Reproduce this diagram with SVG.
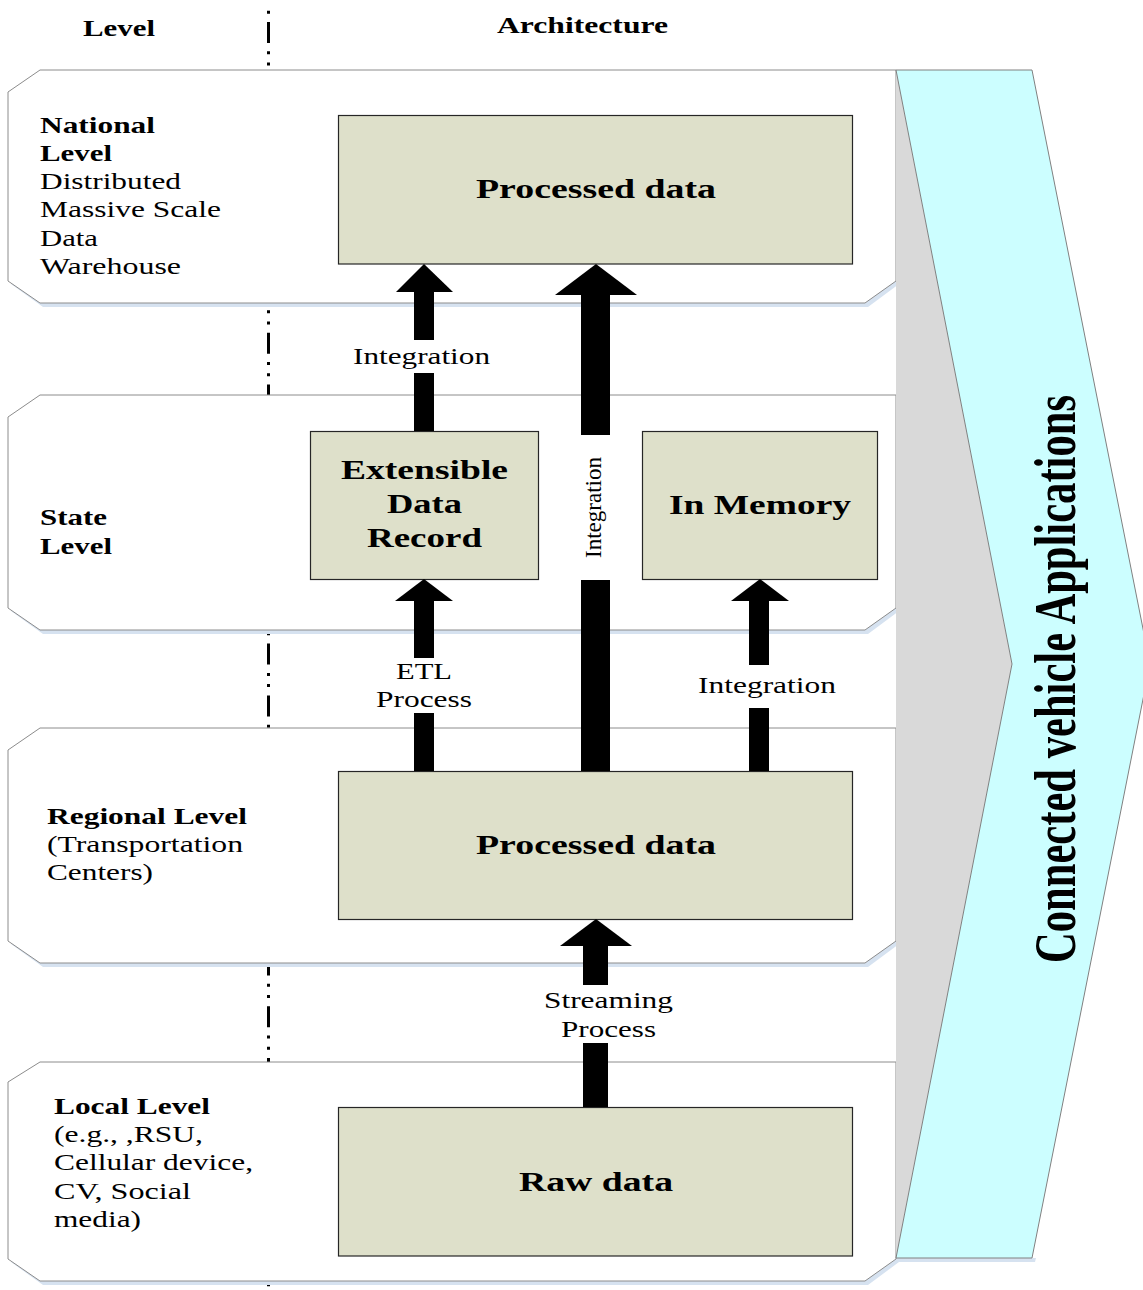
<svg xmlns="http://www.w3.org/2000/svg" width="1143" height="1290" viewBox="0 0 1143 1290">
  <style>
    text { font-family: "Liberation Serif", "Times New Roman", serif; fill: #000; }
    .b { font-weight: bold; }
    .lvl { font-size: 23px; }
    .box-t { font-size: 27px; font-weight: bold; }
    .lab { font-size: 23px; }
    .panel { fill: #ffffff; stroke: #8c8c8c; stroke-width: 1; }
    .shadow { fill: #d6e2f0; }
    .box { fill: #dee0ca; stroke: #262626; stroke-width: 1.2; }
    .arrow { fill: #000; }
  </style>

  <!-- level divider (dash-dot-dot) behind the panels -->
  <line id="divider" x1="268.5" y1="10.7" x2="268.5" y2="1290" stroke="#000" stroke-width="3" stroke-dasharray="3 8.3 21 8.3 3 8.2"/>

  <!-- header -->
  <text class="b" x="83" y="36" font-size="23" textLength="72" lengthAdjust="spacingAndGlyphs">Level</text>
  <text class="b" x="497" y="33" font-size="23" textLength="171" lengthAdjust="spacingAndGlyphs">Architecture</text>

  <!-- level panels -->
  <g id="panel-national">
    <path class="shadow" d="M43 74 L899 74 L899 284 L868 307 L43 307 L11 284 Z"/>
    <path class="panel" d="M40 70 L896 70 L896 281 L865 303 L40 303 L8 281 L8 92 Z"/>
    <text class="lvl b" x="40" y="133" textLength="115" lengthAdjust="spacingAndGlyphs">National</text>
    <text class="lvl b" x="40" y="161" textLength="72" lengthAdjust="spacingAndGlyphs">Level</text>
    <text class="lvl" x="40" y="189" textLength="141" lengthAdjust="spacingAndGlyphs">Distributed</text>
    <text class="lvl" x="40" y="217" textLength="181" lengthAdjust="spacingAndGlyphs">Massive Scale</text>
    <text class="lvl" x="40" y="246" textLength="58" lengthAdjust="spacingAndGlyphs">Data</text>
    <text class="lvl" x="40" y="274" textLength="141" lengthAdjust="spacingAndGlyphs">Warehouse</text>
  </g>

  <g id="panel-state">
    <path class="shadow" d="M43 399 L899 399 L899 611 L868 634 L43 634 L11 611 Z"/>
    <path class="panel" d="M40 395 L896 395 L896 608 L865 630 L40 630 L8 608 L8 417 Z"/>
    <text class="lvl b" x="40" y="525" textLength="67" lengthAdjust="spacingAndGlyphs">State</text>
    <text class="lvl b" x="40" y="554" textLength="72" lengthAdjust="spacingAndGlyphs">Level</text>
  </g>

  <g id="panel-regional">
    <path class="shadow" d="M43 732 L899 732 L899 944 L868 967 L43 967 L11 944 Z"/>
    <path class="panel" d="M40 728 L896 728 L896 941 L865 963 L40 963 L8 941 L8 750 Z"/>
    <text class="lvl b" x="47" y="824" textLength="200" lengthAdjust="spacingAndGlyphs">Regional Level</text>
    <text class="lvl" x="47" y="852" textLength="196" lengthAdjust="spacingAndGlyphs">(Transportation</text>
    <text class="lvl" x="47" y="880" textLength="106" lengthAdjust="spacingAndGlyphs">Centers)</text>
  </g>

  <g id="panel-local">
    <path class="shadow" d="M43 1066 L899 1066 L899 1262 L868 1285 L43 1285 L11 1262 Z"/>
    <path class="panel" d="M40 1062 L896 1062 L896 1259 L865 1281 L40 1281 L8 1259 L8 1082 Z"/>
    <text class="lvl b" x="54" y="1114" textLength="156" lengthAdjust="spacingAndGlyphs">Local Level</text>
    <text class="lvl" x="54" y="1142" textLength="149" lengthAdjust="spacingAndGlyphs">(e.g., ,RSU,</text>
    <text class="lvl" x="54" y="1170" textLength="199" lengthAdjust="spacingAndGlyphs">Cellular device,</text>
    <text class="lvl" x="54" y="1199" textLength="137" lengthAdjust="spacingAndGlyphs">CV, Social</text>
    <text class="lvl" x="54" y="1227" textLength="87" lengthAdjust="spacingAndGlyphs">media)</text>
  </g>

  <!-- application band on the right -->
  <g id="applications">
    <polygon points="896,70 1012,664 896,1258" fill="#d9d9d9"/>
    <polygon points="899,1262 1035,1262 1036,1258 899,1258" fill="#d6e2f0"/>
    <polygon points="896,70 1032,70 1150,664 1032,1258 896,1258 1012,664" fill="#ccfeff" stroke="#808080" stroke-width="1"/>
    <text class="b" font-size="60" text-anchor="middle" transform="translate(1075 679) rotate(-90)" textLength="568" lengthAdjust="spacingAndGlyphs">Connected vehicle Applications</text>
  </g>

  <!-- data stores -->
  <g id="national-processed">
    <rect class="box" x="338.5" y="115.5" width="514" height="148.5"/>
    <text class="box-t" x="596" y="198" text-anchor="middle" textLength="240" lengthAdjust="spacingAndGlyphs">Processed data</text>
  </g>
  <g id="extensible-record">
    <rect class="box" x="310.5" y="431.5" width="228" height="148"/>
    <text class="box-t" x="424.5" y="479" text-anchor="middle" textLength="167" lengthAdjust="spacingAndGlyphs">Extensible</text>
    <text class="box-t" x="424.5" y="513" text-anchor="middle" textLength="75" lengthAdjust="spacingAndGlyphs">Data</text>
    <text class="box-t" x="424.5" y="547" text-anchor="middle" textLength="115" lengthAdjust="spacingAndGlyphs">Record</text>
  </g>
  <g id="in-memory">
    <rect class="box" x="642.5" y="431.5" width="235" height="148"/>
    <text class="box-t" x="760" y="514" text-anchor="middle" textLength="182" lengthAdjust="spacingAndGlyphs">In Memory</text>
  </g>
  <g id="regional-processed">
    <rect class="box" x="338.5" y="771.5" width="514" height="148"/>
    <text class="box-t" x="596" y="854" text-anchor="middle" textLength="240" lengthAdjust="spacingAndGlyphs">Processed data</text>
  </g>
  <g id="raw-data">
    <rect class="box" x="338.5" y="1107.5" width="514" height="148.5"/>
    <text class="box-t" x="596" y="1191" text-anchor="middle" textLength="154" lengthAdjust="spacingAndGlyphs">Raw data</text>
  </g>

  <!-- block arrows with labels set into their shafts -->
  <g id="connectors">
    <!-- Extensible Data Record to national store -->
    <polygon class="arrow" points="424,264 453,292 396,292"/>
    <rect class="arrow" x="414" y="291" width="20" height="49"/>
    <rect class="arrow" x="414" y="373" width="20" height="58"/>
    <text class="lab" x="421.5" y="364" text-anchor="middle" textLength="137" lengthAdjust="spacingAndGlyphs">Integration</text>

    <!-- regional store straight to national store -->
    <polygon class="arrow" points="596,264 637,295 555,295"/>
    <rect class="arrow" x="581" y="294" width="29" height="141"/>
    <rect class="arrow" x="581" y="580" width="29" height="191"/>
    <text class="lab" font-size="24" text-anchor="middle" transform="translate(601 507.5) rotate(-90)" textLength="101" lengthAdjust="spacingAndGlyphs">Integration</text>

    <!-- regional store to Extensible Data Record -->
    <polygon class="arrow" points="424,579 453,601 395,601"/>
    <rect class="arrow" x="414" y="600" width="20" height="58"/>
    <rect class="arrow" x="414" y="713" width="20" height="58"/>
    <text class="lab" x="424" y="679" text-anchor="middle" textLength="56" lengthAdjust="spacingAndGlyphs">ETL</text>
    <text class="lab" x="424" y="707" text-anchor="middle" textLength="96" lengthAdjust="spacingAndGlyphs">Process</text>

    <!-- regional store to In Memory -->
    <polygon class="arrow" points="760,579 789,601 731,601"/>
    <rect class="arrow" x="749" y="600" width="20" height="65"/>
    <rect class="arrow" x="749" y="708" width="20" height="63"/>
    <text class="lab" x="767" y="693" text-anchor="middle" textLength="138" lengthAdjust="spacingAndGlyphs">Integration</text>

    <!-- raw data to regional store -->
    <polygon class="arrow" points="596,919 632,946 560,946"/>
    <rect class="arrow" x="583" y="945" width="25" height="40"/>
    <rect class="arrow" x="583" y="1043" width="25" height="64"/>
    <text class="lab" x="608.5" y="1008" text-anchor="middle" textLength="129" lengthAdjust="spacingAndGlyphs">Streaming</text>
    <text class="lab" x="608.5" y="1037" text-anchor="middle" textLength="95" lengthAdjust="spacingAndGlyphs">Process</text>
  </g>
</svg>
